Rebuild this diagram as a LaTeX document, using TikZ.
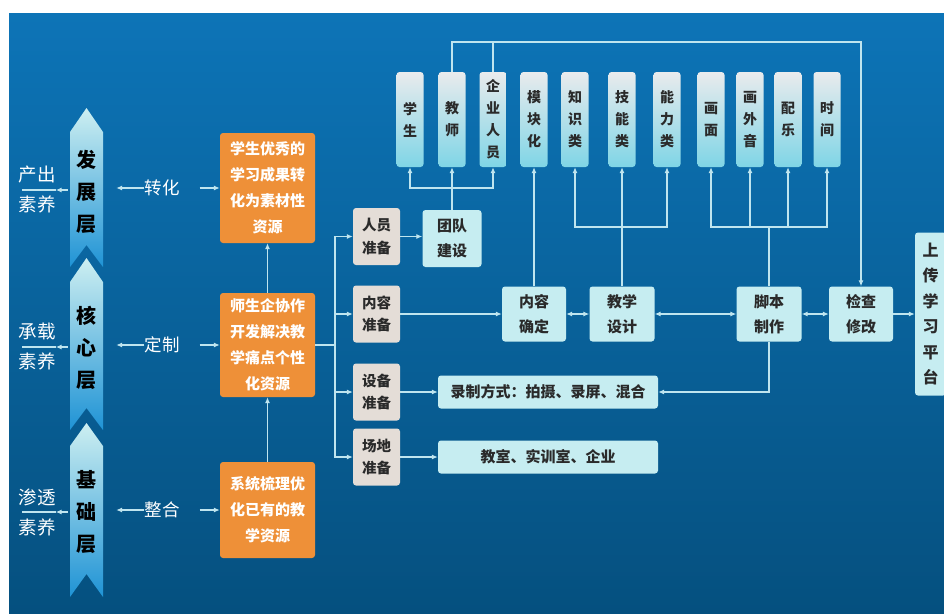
\documentclass[tikz,border=0pt]{standalone}
\usepackage{fontspec}
\setmainfont{Noto Sans CJK SC}
\usetikzlibrary{arrows.meta,positioning,calc}
\definecolor{bgtop}{HTML}{0D74B7}
\definecolor{bgmid}{HTML}{0A619E}
\definecolor{bgbot}{HTML}{05507F}
\definecolor{chtop}{HTML}{CDEFF1}
\definecolor{chbot}{HTML}{1F93D5}
\definecolor{zyorange}{HTML}{EE9038}
\definecolor{bbgray}{HTML}{E4DDD7}
\definecolor{boxcyan}{HTML}{C6EDF1}
\definecolor{talltop}{HTML}{E9EBED}
\definecolor{tallbot}{HTML}{7FD5E6}
\definecolor{linecyan}{HTML}{BFE5EF}
\definecolor{txtdark}{HTML}{2A2A2A}

\begin{document}
\begin{tikzpicture}[x=1pt, y=-1pt,
  box/.style={rounded corners=3pt, align=center, inner sep=2pt, text=txtdark, font=\fontsize{15}{25}\selectfont\bfseries},
  orangebox/.style={box, fill=zyorange, text=white, minimum width=95pt, font=\fontsize{15}{26}\selectfont\bfseries},
  graybox/.style={box, fill=bbgray, minimum width=47pt, minimum height=57pt, font=\fontsize{14.5}{22}\selectfont\bfseries},
  cyanbox/.style={box, fill=boxcyan},
  tallbox/.style={box, top color=talltop, bottom color=tallbot, minimum width=27pt, minimum height=95pt, inner sep=0pt, font=\fontsize{14}{22}\selectfont\bfseries},
  layertext/.style={minimum width=33pt, inner sep=0pt, align=center, text=black, font=\fontsize{20}{32}\selectfont\bfseries},
  sidetext/.style={inner sep=0pt, align=center, text=white, font=\fontsize{18.5}{30}\selectfont},
  verbtext/.style={inner sep=0pt, text=white, font=\fontsize{17.5}{20}\selectfont},
  link/.style={draw=linecyan, line width=1.1pt},
  arrow/.style={link, -{Latex[length=6pt,width=5pt]}},
  darrow/.style={link, {Latex[length=6pt,width=5pt]}-{Latex[length=6pt,width=5pt]}}
]
\useasboundingbox (0,0) rectangle (944,613);
\clip (0,0) rectangle (944,613);
\fill[white] (0,0) rectangle (944,613);
\shade[top color=bgtop, middle color=bgmid, bottom color=bgbot] (9,13) rectangle (944,613);

\shade[top color=chtop, bottom color=chbot] (86.5,108) -- (103,132) -- (103,267) -- (86.5,245) -- (70,267) -- (70,132) -- cycle;
\shade[top color=chtop, bottom color=chbot] (86.5,258) -- (103,282) -- (103,430) -- (86.5,408) -- (70,430) -- (70,282) -- cycle;
\shade[top color=chtop, bottom color=chbot] (86.5,423) -- (103,446) -- (103,597) -- (86.5,574) -- (70,597) -- (70,446) -- cycle;

\node[layertext] (fzc) at (86.5,191.5) {发\\展\\层};
\node[layertext] (hxc) at (86.5,347.5) {核\\心\\层};
\node[layertext] (jcc) at (86.5,512.5) {基\\础\\层};

\node[sidetext] (ccsy) at (37,190) {产出\\素养};
\node[sidetext] (czsy) at (37,347) {承载\\素养};
\node[sidetext] (stsy) at (37,512) {渗透\\素养};

\node[verbtext] (zh) at (162,188) {转化};
\node[verbtext] (dz) at (162,345) {定制};
\node[verbtext] (zhg) at (162,510) {整合};

\node[orangebox, minimum height=110pt] (zy1) at (267.5,188) {学生优秀的\\学习成果转\\化为素材性\\资源};
\node[orangebox, minimum height=104pt] (zy2) at (267.5,345) {师生企协作\\开发解决教\\学痛点个性\\化资源};
\node[orangebox, minimum height=96pt] (zy3) at (267.5,510) {系统梳理优\\化已有的教\\学资源};

\node[graybox] (rybb) at (376.5,236.5) {人员\\准备};
\node[graybox] (nrbb) at (376.5,314) {内容\\准备};
\node[graybox] (sbbb) at (376.5,392) {设备\\准备};
\node[graybox] (cdbb) at (376.5,457) {场地\\准备};

\node[cyanbox, minimum width=59pt, minimum height=57pt] (tdjs) at (452,238.5) {团队\\建设};

\node[tallbox] (xs) at (410,119.5) {学\\生};
\node[tallbox] (js) at (452,119.5) {教\\师};
\node[tallbox] (qyry) at (493,119.5) {企\\业\\人\\员};
\node[tallbox] (mkh) at (534,119.5) {模\\块\\化};
\node[tallbox] (zsl) at (575,119.5) {知\\识\\类};
\node[tallbox] (jnl) at (622,119.5) {技\\能\\类};
\node[tallbox] (nll) at (667,119.5) {能\\力\\类};
\node[tallbox] (hm) at (711,119.5) {画\\面};
\node[tallbox] (hwy) at (750,119.5) {画\\外\\音};
\node[tallbox] (pl) at (788,119.5) {配\\乐};
\node[tallbox] (sj) at (827,119.5) {时\\间};

\node[cyanbox, minimum width=64pt, minimum height=55pt] (nrqd) at (534,314) {内容\\确定};
\node[cyanbox, minimum width=65pt, minimum height=55pt] (jxsj) at (622,314) {教学\\设计};
\node[cyanbox, minimum width=65pt, minimum height=55pt] (jbzz) at (769,314) {脚本\\制作};
\node[cyanbox, minimum width=64pt, minimum height=55pt] (jcxg) at (861,314) {检查\\修改};
\node[cyanbox, minimum width=31pt, minimum height=163pt, font=\fontsize{16}{25.5}\selectfont\bfseries] (scpt) at (930.5,314) {上\\传\\学\\习\\平\\台};

\node[cyanbox, minimum width=220pt, minimum height=33pt] (lzfs) at (548,392) {录制方式：拍摄、录屏、混合};
\node[cyanbox, minimum width=220pt, minimum height=33pt] (jsqy) at (548,457) {教室、实训室、企业};

\coordinate (tk) at (335,345);
\coordinate (tdj) at (452,188);
\coordinate (tl) at (452,42);
\coordinate (jxj) at (622,227);
\coordinate (jbj) at (769,227);

\draw[arrow, shorten <=2pt] (ccsy.east -| fzc.west) -- (ccsy.east);
\draw[link, shorten >=4pt] (ccsy.east) -- (ccsy.west);
\draw[arrow, shorten <=2pt] (czsy.east -| hxc.west) -- (czsy.east);
\draw[link, shorten >=4pt] (czsy.east) -- (czsy.west);
\draw[arrow, shorten <=2pt] (stsy.east -| jcc.west) -- (stsy.east);
\draw[link, shorten >=4pt] (stsy.east) -- (stsy.west);

\draw[arrow, shorten >=13pt] (zh.west) -- (zh.west -| fzc.east);
\draw[arrow, shorten >=13pt] (dz.west) -- (dz.west -| hxc.east);
\draw[arrow, shorten >=13pt] (zhg.west) -- (zhg.west -| jcc.east);
\draw[arrow, shorten <=20pt] (zh.east) -- (zh.east -| zy1.west);
\draw[arrow, shorten <=20pt] (dz.east) -- (dz.east -| zy2.west);
\draw[arrow, shorten <=20pt] (zhg.east) -- (zhg.east -| zy3.west);

\draw[arrow] (zy3.north) -- (zy2.south);
\draw[arrow] (zy2.north) -- (zy1.south);

\draw[link] (zy2.east) -- (tk);
\draw[arrow] (tk) |- (rybb.west);
\draw[arrow] (tk) |- (nrbb.west);
\draw[arrow] (tk) |- (sbbb.west);
\draw[arrow] (tk) |- (cdbb.west);

\draw[arrow] (rybb.east) -- (rybb.east -| tdjs.west);
\draw[arrow] (tdjs.north) -- (js.south);
\draw[arrow] (tdj) -| (xs.south);
\draw[arrow] (tdj) -| (qyry.south);

\draw[arrow] (js.north) -- (tl) -| (jcxg.north);
\draw[link] (qyry.north) -- (qyry.north |- tl);

\draw[arrow] (nrbb.east) -- (nrqd.west);
\draw[darrow] (nrqd.east) -- (jxsj.west);
\draw[darrow] (jxsj.east) -- (jbzz.west);
\draw[darrow] (jbzz.east) -- (jcxg.west);
\draw[arrow] (jcxg.east) -- (scpt.west);

\draw[arrow] (nrqd.north) -- (mkh.south);
\draw[arrow] (jxsj.north) -- (jnl.south);
\draw[arrow] (jxj) -| (zsl.south);
\draw[arrow] (jxj) -| (nll.south);

\draw[link] (jbzz.north) -- (jbj);
\draw[arrow] (jbj) -| (hm.south);
\draw[arrow] (jbj) -| (hwy.south);
\draw[arrow] (jbj) -| (pl.south);
\draw[arrow] (jbj) -| (sj.south);

\draw[arrow] (jbzz.south) |- (lzfs.east);
\draw[arrow] (sbbb.east) -- (lzfs.west);
\draw[arrow] (cdbb.east) -- (jsqy.west);
\end{tikzpicture}
\end{document}
